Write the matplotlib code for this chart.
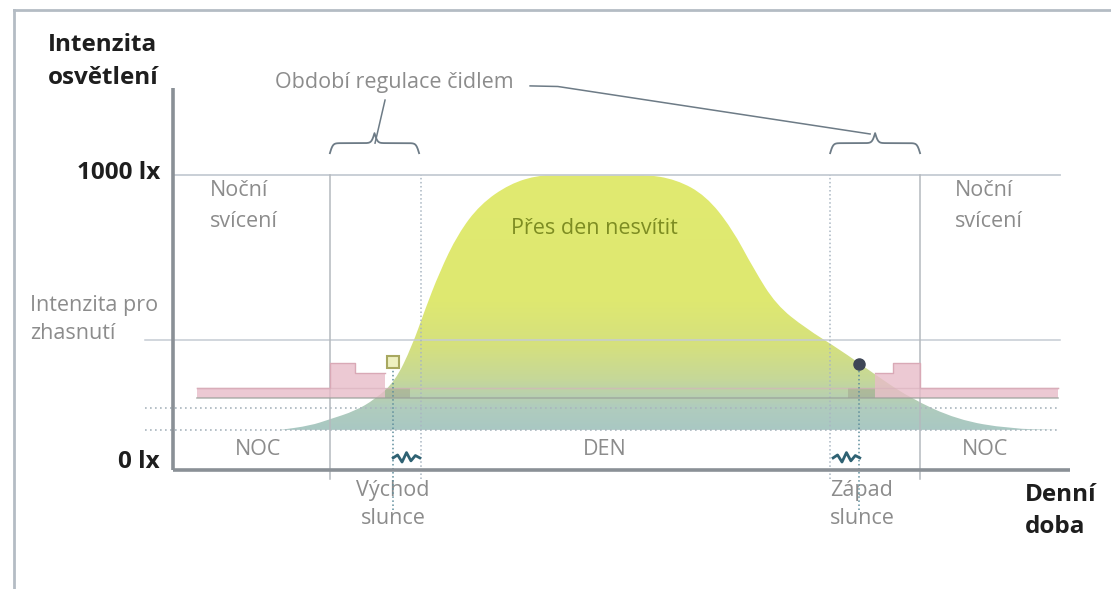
import numpy as np
import matplotlib.pyplot as plt
from matplotlib.colors import LinearSegmentedColormap
from matplotlib.path import Path

plt.rcParams['font.family'] = ['Open Sans', 'DejaVu Sans']

# daylight curve (hour of day, lux) - control points of a smooth bell
sun_h = [2.9, 3.70, 4.24, 4.92, 5.46, 6.00, 6.46, 6.80, 7.20, 7.70, 8.30, 9.10,
         9.90, 10.60, 11.54, 12.70, 13.60, 14.40, 15.10, 15.70, 16.30, 17.10,
         18.00, 18.90, 19.90, 21.20, 22.60, 23.92]
sun_lx = [136, 150, 172, 200, 240, 300, 420, 540, 670, 800, 900, 970,
          1000, 1003, 1003, 1003, 985, 930, 820, 680, 560, 480,
          410, 330, 245, 170, 140, 136]

base_lx = 136          # lower edge of the daylight fill
mid_lx = 210           # upper dotted line
off_lx = 441           # switch-off threshold
max_lx = 1000

# lamp output (step function, left = morning, right = evening)
lamp_bottom = 244
lamp_am_h = [0.65, 4.24, 4.92, 5.73]
lamp_am_top = [278, 363, 329]
lamp_am_dim = [5.73, 6.41]
lamp_pm_dim = [18.24, 18.97]
lamp_pm_h = [18.97, 19.46, 20.19, 23.92]
lamp_pm_top = [329, 363, 278]
lamp_end_h = [0.65, 23.92]

# sensor regulation periods
sensor_am = [4.24, 6.70]
sensor_pm = [17.76, 20.19]
sunrise = (5.95, 366)
sunset = (18.54, 359)

grey_txt = '#8c8c8c'
line_c = '#c5ccd3'

fig = plt.figure(figsize=(11.11, 5.89), dpi=100)
ax = fig.add_axes([0, 0, 1, 1])
ax.axis('off')

# outer frame
ax.plot([0.0126, 0.0126], [0, 0.983], transform=ax.transAxes, color='#b4bcc4', lw=2)
ax.plot([0.0126, 1], [0.983, 0.983], transform=ax.transAxes, color='#b4bcc4', lw=2)

# reference lines
ax.plot([0, 23.97], [max_lx, max_lx], color=line_c, lw=1.3)
ax.plot([-0.76, 23.97], [off_lx, off_lx], color=line_c, lw=1.1)

# smooth outline of the daylight area (quadratic bezier through midpoints)
pts = np.column_stack([sun_h, sun_lx])
verts = [pts[0], (pts[0] + pts[1]) / 2]
codes = [Path.MOVETO, Path.LINETO]
for i in range(1, len(pts) - 1):
    verts += [pts[i], (pts[i] + pts[i + 1]) / 2]
    codes += [Path.CURVE3, Path.CURVE3]
verts += [pts[-1], (pts[-1][0], base_lx), (pts[0][0], base_lx), pts[0]]
codes += [Path.LINETO, Path.LINETO, Path.LINETO, Path.CLOSEPOLY]
day_path = Path(verts, codes)

cmap = LinearSegmentedColormap.from_list('day', [
    (0.0, '#a9c8c3'), (0.09, '#b0ccbd'), (0.13, '#b8d0b0'),
    (0.2, '#c6d898'), (0.33, '#d5e07e'), (0.5, '#dee871'), (1.0, '#e1ea70')])
grad = np.linspace(0, 1, 256).reshape(-1, 1)
im = ax.imshow(grad, cmap=cmap, origin='lower', aspect='auto',
               extent=[min(sun_h), max(sun_h), base_lx, max_lx], zorder=1)
im.set_clip_path(day_path, transform=ax.transData)
ax.set_xlim(-4.676, 25.35)
ax.set_ylim(-403.4, 1593.2)

# dotted level lines
for lv in [mid_lx, base_lx]:
    ax.plot([-0.76, 23.92], [lv, lv], color='#a9b5bd', lw=1.2, ls=(0, (1, 2)), zorder=2)

# lamp output
pink = '#e8bcc8'
ax.fill_between(lamp_am_h, lamp_bottom, lamp_am_top + [lamp_am_top[-1]], step='post',
                color=pink, alpha=0.8, lw=0, zorder=3)
ax.fill_between(lamp_pm_h, lamp_bottom, lamp_pm_top + [lamp_pm_top[-1]], step='post',
                color=pink, alpha=0.8, lw=0, zorder=3)
ax.fill_between(lamp_am_dim, lamp_bottom, 278, color='#9c9c88', alpha=0.45, lw=0, zorder=3)
ax.fill_between(lamp_pm_dim, lamp_bottom, 278, color='#9c9c88', alpha=0.45, lw=0, zorder=3)
ax.step(lamp_am_h, lamp_am_top + [lamp_am_top[-1]], where='post', color='#d9a9b6', lw=1, zorder=3)
ax.step(lamp_pm_h, lamp_pm_top + [lamp_pm_top[-1]], where='post', color='#d9a9b6', lw=1, zorder=3)
ax.plot(lamp_end_h, [lamp_bottom, lamp_bottom], color='#9aa09a', lw=1.2, alpha=0.7, zorder=3)
ax.plot(lamp_end_h, [278, 278], color='#d8b0bc', lw=1, alpha=0.6, zorder=3)

# vertical period lines
for xv, ls, c in [(sensor_am[0], '-', '#b4b9be'), (sensor_am[1], ':', '#a9b6c2'),
                  (sensor_pm[0], ':', '#a9b6c2'), (sensor_pm[1], '-', '#b4b9be')]:
    ax.plot([xv, xv], [-30, max_lx], color=c, lw=1.1, ls=ls, zorder=2)

# sunrise / sunset markers
ax.plot([sunrise[0], sunrise[0]], [-136, sunrise[1]], color='#5f8e9c', lw=1.1, ls=':', zorder=4)
ax.plot([sunset[0], sunset[0]], [-136, sunset[1]], color='#5f8e9c', lw=1.1, ls=':', zorder=4)
ax.plot(*sunrise, marker='s', ms=8, mfc='#eef0c0', mec='#a8a860', mew=1.5, zorder=5)
ax.plot(*sunset, marker='o', ms=8, mfc='#3e4656', mec='#3e4656', zorder=5)

# zigzag marks
zig_dx = np.array([0, 0.12, 0.24, 0.36, 0.48, 0.6, 0.72])
zig_dy = np.array([0, 10, -14, 18, -10, 8, 0])
for x0 in [sunrise[0], sensor_pm[0] + 0.08]:
    ax.plot(x0 + zig_dx, 41 + zig_dy, color='#2f6273', lw=2, zorder=5)

# axes
ax.plot([0, 0], [0, 1295], color='#8a9096', lw=2.6, solid_capstyle='butt', zorder=6)
ax.plot([0, 24.24], [0, 0], color='#8a9096', lw=2.6, solid_capstyle='butt', zorder=6)

# braces
def brace(x0, x1, y, tip):
    xs = np.linspace(x0, x1, 201)
    half = xs[:101]
    beta = 60 / (x1 - x0)
    yh = 1 / (1 + np.exp(-beta * (half - half[0]))) + 1 / (1 + np.exp(-beta * (half - half[-1])))
    ys = np.concatenate([yh, yh[-2::-1]])
    ax.plot(xs, y + ys * tip, color='#6d7b86', lw=1.3, zorder=5)

brace(sensor_am[0], 6.65, 1040, 68)
brace(17.76, sensor_pm[1], 1040, 68)

# leader lines
ax.plot([5.46, 5.73], [1108, 1254], color='#6d7b86', lw=1.1)
ax.plot([9.65, 10.4, 18.84], [1302, 1300, 1139], color='#6d7b86', lw=1.1)

# texts
bold = dict(color='#1e1e1e', fontsize=17.5, fontweight='bold')
ax.text(-3.38, 1441, 'Intenzita', ha='left', va='center', **bold)
ax.text(-3.38, 1329, 'osvětlení', ha='left', va='center', **bold)
ax.text(-0.35, 1007, '1000 lx', ha='right', va='center', **bold)
ax.text(-0.35, 27, '0 lx', ha='right', va='center', **bold)
ax.text(23.03, -85, 'Denní', ha='left', va='center', **bold)
ax.text(23.03, -193, 'doba', ha='left', va='center', **bold)

reg = dict(color=grey_txt, fontsize=15.5)
ax.text(2.76, 1312, 'Období regulace čidlem', ha='left', va='center', **reg)
ax.text(-3.86, 556, 'Intenzita pro', ha='left', va='center', **reg)
ax.text(-3.86, 464, 'zhasnutí', ha='left', va='center', **reg)
for xt in [1.0, 21.14]:
    ax.text(xt, 949, 'Noční', ha='left', va='center', **reg)
    ax.text(xt, 841, 'svícení', ha='left', va='center', **reg)
ax.text(11.4, 820, 'Přes den nesvítit', ha='center', va='center', color='#7d8c22', fontsize=15.5)
for xt, lab in [(2.30, 'NOC'), (11.68, 'DEN'), (21.95, 'NOC')]:
    ax.text(xt, 68, lab, ha='center', va='center', **reg)
ax.text(5.95, -68, 'Východ', ha='center', va='center', **reg)
ax.text(5.95, -163, 'slunce', ha='center', va='center', **reg)
ax.text(18.62, -68, 'Západ', ha='center', va='center', **reg)
ax.text(18.62, -163, 'slunce', ha='center', va='center', **reg)

fig.savefig('out.png', dpi=100)
